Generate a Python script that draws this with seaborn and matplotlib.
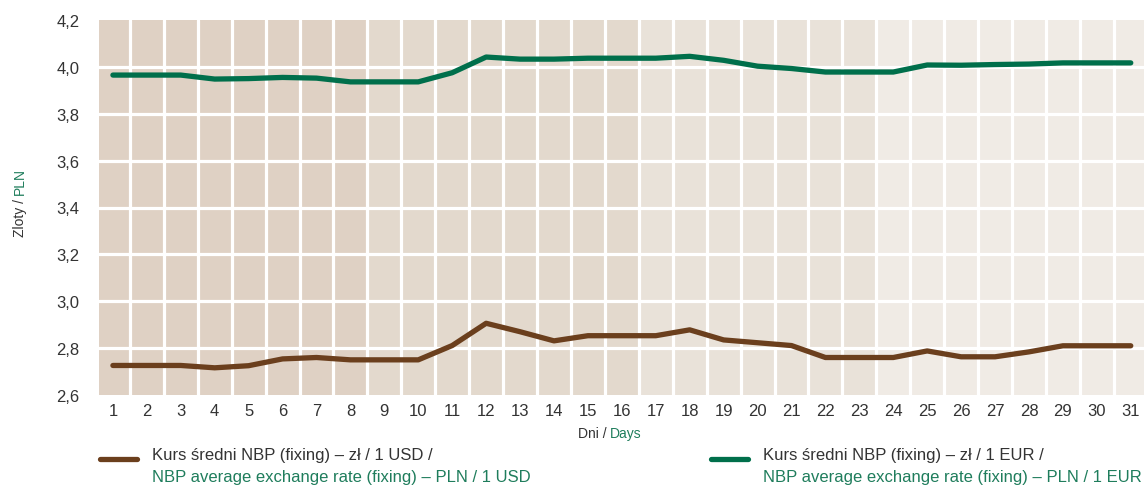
import numpy as np
import pandas as pd
import matplotlib
matplotlib.use("Agg")
import matplotlib.pyplot as plt
from matplotlib.lines import Line2D
import seaborn as sns

days = list(range(1, 32))
usd = [2.726, 2.726, 2.726, 2.716, 2.725, 2.754, 2.760, 2.750, 2.750, 2.750,
       2.811, 2.906, 2.870, 2.831, 2.853, 2.853, 2.853, 2.878, 2.835, 2.823,
       2.811, 2.760, 2.760, 2.760, 2.788, 2.763, 2.763, 2.784, 2.810, 2.810, 2.810]
eur = [3.965, 3.965, 3.965, 3.948, 3.950, 3.955, 3.952, 3.936, 3.936, 3.936,
       3.975, 4.042, 4.033, 4.033, 4.037, 4.037, 4.037, 4.045, 4.028, 4.003,
       3.993, 3.978, 3.978, 3.978, 4.008, 4.007, 4.010, 4.012, 4.017, 4.017, 4.017]
yticks = [2.6, 2.8, 3.0, 3.2, 3.4, 3.6, 3.8, 4.0, 4.2]
ytick_labels = ["2,6", "2,8", "3,0", "3,2", "3,4", "3,6", "3,8", "4,0", "4,2"]
series_pl = ["Kurs średni NBP (fixing) – zł / 1 USD /", "Kurs średni NBP (fixing) – zł / 1 EUR /"]
series_en = ["NBP average exchange rate (fixing) – PLN / 1 USD", "NBP average exchange rate (fixing) – PLN / 1 EUR"]
# background shading groups (first day, last day)
band_groups = [(1, 8), (9, 16), (17, 23), (24, 31)]
band_colors = ["#dfd1c4", "#e3d9cd", "#e9e2d9", "#f0ebe5"]

BROWN = "#6b3f1d"
GREEN = "#006f4b"
TXTGREEN = "#1f7d5c"
GRAY = "#333333"

sns.set_theme(style="white")
plt.rcParams['font.family'] = ['Liberation Sans', 'DejaVu Sans']

df = pd.DataFrame({
    "day": days * 2,
    "value": usd + eur,
    "series": ["USD"] * len(days) + ["EUR"] * len(days),
})

fig = plt.figure(figsize=(11.44, 4.89), dpi=100)
ax = fig.add_axes([99 / 1144, 1 - 396 / 489, (1144 - 99) / 1144, (396 - 21) / 489])

for (a, b), c in zip(band_groups, band_colors):
    ax.axvspan(a - 0.5, b + 0.5, color=c, lw=0, zorder=0)
for x in np.arange(1.5, 31, 1.0):
    ax.axvline(x, color="white", lw=2.3, zorder=1)
for y in yticks[1:-1]:
    ax.axhline(y, color="white", lw=2.3, zorder=1)

sns.lineplot(data=df, x="day", y="value", hue="series",
             palette={"USD": BROWN, "EUR": GREEN}, lw=3.8,
             legend=False, ax=ax, zorder=3, solid_capstyle="round",
             solid_joinstyle="round")

ax.set_xlim(0.59, 31.39)
ax.set_ylim(2.6, 4.2)
ax.set_xticks(days)
ax.set_xticklabels([str(d) for d in days], fontsize=12, color=GRAY)
ax.set_yticks(yticks)
ax.set_yticklabels(ytick_labels, fontsize=12, color=GRAY)
ax.tick_params(axis="both", length=0)
ax.tick_params(axis="y", pad=14)
ax.tick_params(axis="x", pad=6)
ax.set_xlabel("")
ax.set_ylabel("")
for s in ax.spines.values():
    s.set_visible(False)

# axis titles (two colours)
fig.text(0.5335, 1 - 434 / 489, "Dni / ", fontsize=10, color=GRAY, ha="right", va="center")
fig.text(0.5335, 1 - 434 / 489, "Days", fontsize=10, color=TXTGREEN, ha="left", va="center")
fig.text(20 / 1144, 1 - 195 / 489, "Zloty / ", fontsize=10, color=GRAY, rotation=90, ha="center", va="top")
fig.text(20 / 1144, 1 - 195 / 489, "PLN", fontsize=10, color=TXTGREEN, rotation=90, ha="center", va="bottom")

# legend
for i, (col, x0) in enumerate([(BROWN, 100), (GREEN, 711)]):
    fig.add_artist(Line2D([x0 / 1144, (x0 + 37) / 1144], [1 - 460 / 489] * 2,
                          color=col, lw=3.8, solid_capstyle="round"))
    fig.text((x0 + 52) / 1144, 1 - 456 / 489, series_pl[i], fontsize=12, color=GRAY, ha="left", va="center")
    fig.text((x0 + 52) / 1144, 1 - 478 / 489, series_en[i], fontsize=12, color=TXTGREEN, ha="left", va="center")

fig.savefig("out.png", dpi=100)
